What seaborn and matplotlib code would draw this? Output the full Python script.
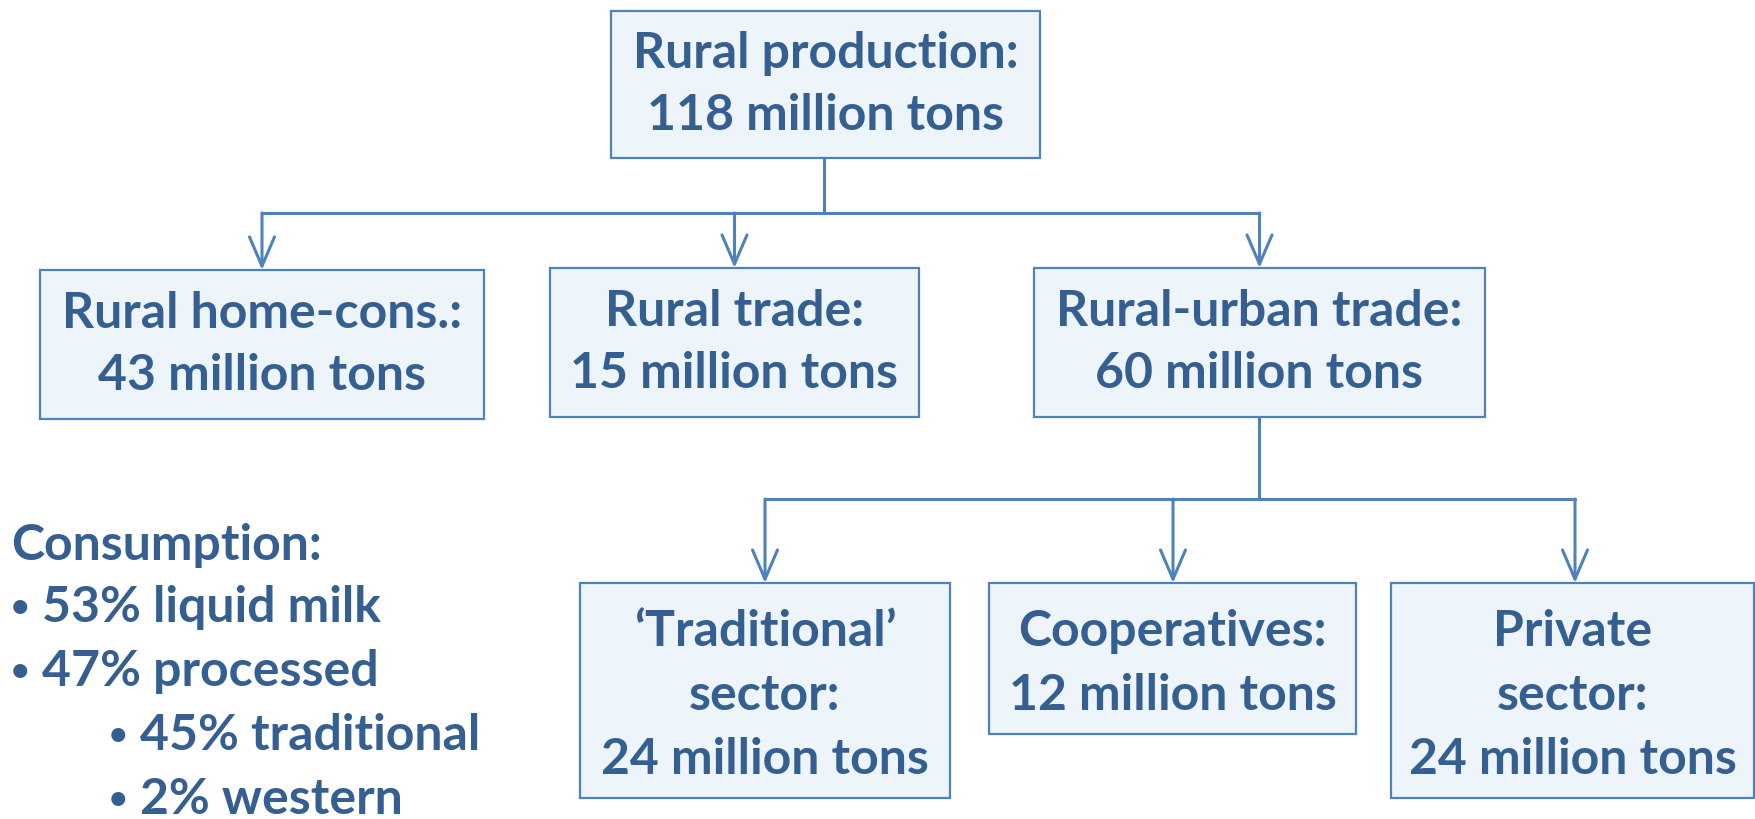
import matplotlib
matplotlib.use("Agg")
import matplotlib.pyplot as plt
from matplotlib.patches import Rectangle
import seaborn as sns

# data: flow of milk (million tons)
level0_names = ["Rural production:"]
level0_tons = [118]
level1_names = ["Rural home-cons.:", "Rural trade:", "Rural-urban trade:"]
level1_tons = [43, 15, 60]
level2_names = ["\u2018Traditional\u2019\nsector:", "Cooperatives:", "Private\nsector:"]
level2_tons = [24, 12, 24]
cons_labels = ["liquid milk", "processed", "traditional", "western"]
cons_shares = [53, 47, 45, 2]
cons_levels = [0, 0, 1, 1]

# layout (pixels, figure is 1756x819)
top_box = (611, 11, 1040, 158)
mid_boxes = [(40, 270, 484, 419), (550, 268, 919, 417), (1034, 268, 1485, 417)]
bot_boxes = [(580, 583, 950, 798), (989, 583, 1356, 734), (1391, 583, 1754, 798)]

TXT = "#365F91"
EDGE = "#4F81BD"
FILL = "#EDF5FA"

sns.set_theme(style="white")
plt.rcParams["font.family"] = ["Lato", "DejaVu Sans"]

fig = plt.figure(figsize=(17.56, 8.19), dpi=100)
ax = fig.add_axes([0, 0, 1, 1])
ax.set_xlim(0, 1756)
ax.set_ylim(819, 0)
ax.axis("off")

FS = 36


def box(b, text, ls, dy=0):
    x0, y0, x1, y1 = b
    ax.add_patch(Rectangle((x0, y0), x1 - x0, y1 - y0, facecolor=FILL,
                           edgecolor=EDGE, lw=1.6, zorder=2))
    ax.text((x0 + x1) / 2, (y0 + y1) / 2 + dy, text, ha="center", va="center",
            fontsize=FS, fontweight="bold", color=TXT, linespacing=ls, zorder=3)


def arrow(x, y0, y1):
    ax.annotate("", xy=(x, y1), xytext=(x, y0),
                arrowprops=dict(arrowstyle="->,head_length=0.7,head_width=0.3",
                                color=EDGE, lw=2.2, mutation_scale=30,
                                shrinkA=0, shrinkB=0))


box(top_box, f"{level0_names[0]}\n{level0_tons[0]} million tons", 1.45)
for b, n, t in zip(mid_boxes, level1_names, level1_tons):
    box(b, f"{n}\n{t} million tons", 1.45)
for b, n, t in zip(bot_boxes, level2_names, level2_tons):
    box(b, f"{n}\n{t} million tons", 1.5, dy=5)

# connectors level 0 -> 1
cx = (top_box[0] + top_box[2]) / 2 - 1
ybar = 213
ax.plot([cx, cx], [top_box[3], ybar], color=EDGE, lw=2.2)
xs = [(b[0] + b[2]) / 2 for b in mid_boxes]
ax.plot([xs[0], xs[-1]], [ybar, ybar], color=EDGE, lw=2.2)
for x, b in zip(xs, mid_boxes):
    arrow(x, ybar, b[1])

# connectors level 1 -> 2
src = mid_boxes[2]
cx2 = (src[0] + src[2]) / 2
ybar2 = 499
ax.plot([cx2, cx2], [src[3], ybar2], color=EDGE, lw=2.2)
xs2 = [765, 1173, 1575]
ax.plot([xs2[0], xs2[-1]], [ybar2, ybar2], color=EDGE, lw=2.2)
for x, b in zip(xs2, bot_boxes):
    arrow(x, ybar2, b[1])

# consumption list
ax.text(11, 545, "Consumption:", ha="left", va="center", fontsize=FS,
        fontweight="bold", color=TXT)
for i, (lab, s, lev) in enumerate(zip(cons_labels, cons_shares, cons_levels)):
    x = 11 if lev == 0 else 109
    y = 608 + i * 64
    ax.text(x, y - 1, "\u2022", ha="left", va="center", fontsize=23,
            fontweight="bold", color=TXT)
    ax.text(x + 31, y, f"{s}% {lab}", ha="left", va="center",
            fontsize=FS, fontweight="bold", color=TXT)

fig.savefig("out.png", dpi=100)
